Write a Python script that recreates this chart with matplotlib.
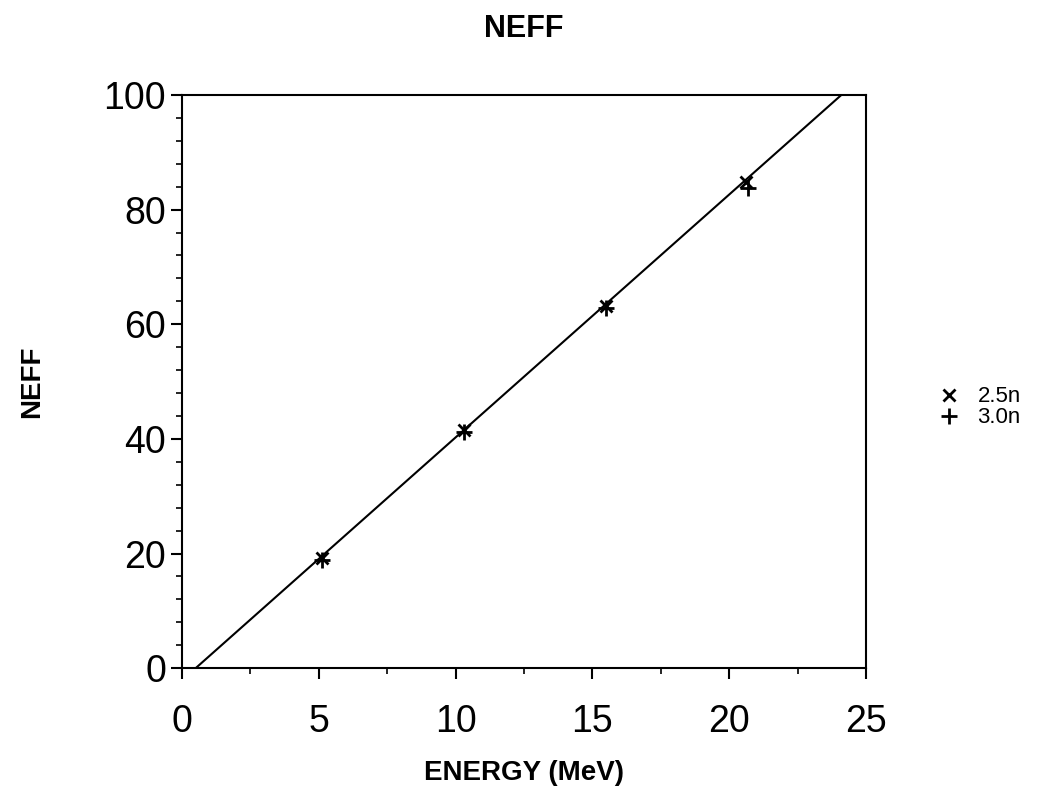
import matplotlib.pyplot as plt
from matplotlib.ticker import MultipleLocator

# data
energy_25 = [5.1, 10.3, 15.5, 20.6]
neff_25 = [19.3, 41.6, 63.2, 84.8]
energy_30 = [5.1, 10.3, 15.5, 20.7]
neff_30 = [18.8, 41.2, 62.9, 83.8]

# fitted line end points
fit_energy = [0.5, 24.1]
fit_neff = [0.0, 100.0]

plt.rcParams['font.family'] = ['Liberation Sans', 'DejaVu Sans']

fig = plt.figure(figsize=(10.49, 8.05), dpi=100)
ax = fig.add_axes([0.1735, 0.170, 0.652, 0.712])

ax.plot(fit_energy, fit_neff, color='black', lw=1.5)
ax.plot(energy_25, neff_25, 'x', color='black', ms=9, mew=2, label='2.5n')
ax.plot(energy_30, neff_30, '+', color='black', ms=12, mew=2, label='3.0n')

ax.set_xlim(0, 25)
ax.set_ylim(0, 100)
ax.xaxis.set_major_locator(MultipleLocator(5))
ax.xaxis.set_minor_locator(MultipleLocator(2.5))
ax.yaxis.set_major_locator(MultipleLocator(20))
ax.yaxis.set_minor_locator(MultipleLocator(4))
ax.tick_params(axis='x', which='major', pad=18)
ax.tick_params(which='major', direction='out', length=8, width=1.5, labelsize=27)
ax.tick_params(which='minor', direction='out', length=4, width=1.2)
for s in ax.spines.values():
    s.set_linewidth(1.5)

ax.set_title('NEFF', fontsize=22, fontweight='bold', pad=42)
ax.set_xlabel('ENERGY (MeV)', fontsize=20, fontweight='bold', labelpad=14)
ax.set_ylabel('NEFF', fontsize=20, fontweight='bold', labelpad=42)

ax.legend(loc='center left', bbox_to_anchor=(1.095, 0.455), frameon=False,
          fontsize=16, handlelength=0.8, handletextpad=0.9, labelspacing=0.0,
          borderaxespad=0)

fig.savefig('out.png', dpi=100)
